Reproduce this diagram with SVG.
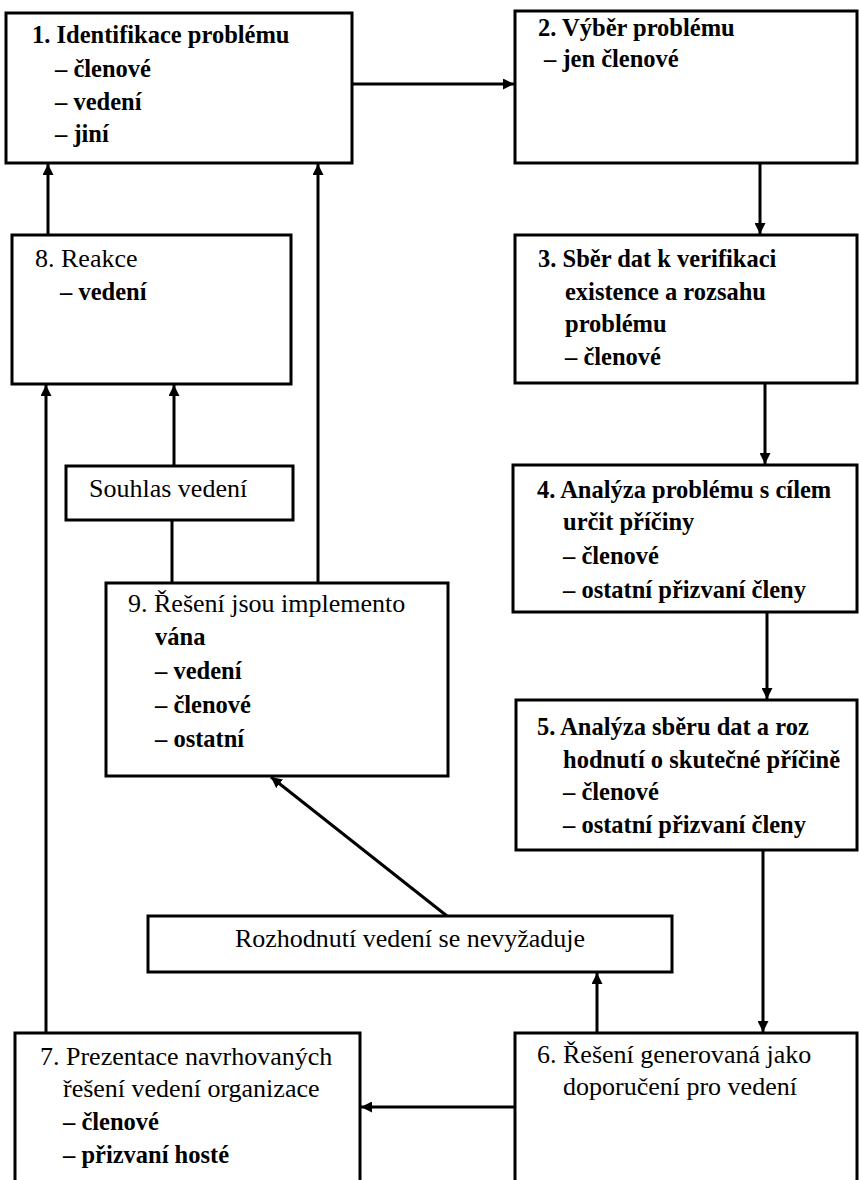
<svg xmlns="http://www.w3.org/2000/svg" width="859" height="1180" viewBox="0 0 859 1180">
<style>
.box{fill:#fff;stroke:#000;stroke-width:3}
.t{font-family:"Liberation Serif","Times New Roman",serif;font-size:24.5px;font-weight:bold;fill:#000}
.r{font-family:"Liberation Serif","Times New Roman",serif;font-size:26px;font-weight:normal;fill:#000}
.c{fill:none;stroke:#000;stroke-width:3}
</style>
<defs>
<marker id="ah" viewBox="0 0 10 10" refX="10" refY="5" markerWidth="11" markerHeight="11" markerUnits="userSpaceOnUse" orient="auto">
<path d="M0,0 L10,5 L0,10 z" fill="#000"/>
</marker>
</defs>
<rect x="0" y="0" width="859" height="1180" fill="#fff"/>
<g id="connectors">
<path class="c" d="M352,84 H514" marker-end="url(#ah)"/>
<path class="c" d="M760,163 V234" marker-end="url(#ah)"/>
<path class="c" d="M765,383 V464" marker-end="url(#ah)"/>
<path class="c" d="M767,612 V699" marker-end="url(#ah)"/>
<path class="c" d="M763,850 V1032" marker-end="url(#ah)"/>
<path class="c" d="M597,1033 V973" marker-end="url(#ah)"/>
<path class="c" d="M447,916 L271,777" marker-end="url(#ah)"/>
<path class="c" d="M515,1107 H361" marker-end="url(#ah)"/>
<path class="c" d="M46,1033 V385" marker-end="url(#ah)"/>
<path class="c" d="M174,466 V385" marker-end="url(#ah)"/>
<path class="c" d="M172,583 V520"/>
<path class="c" d="M318,583 V164" marker-end="url(#ah)"/>
<path class="c" d="M48,235 V164" marker-end="url(#ah)"/>
</g>
<g id="n1">
<rect class="box" x="6" y="13" width="346" height="150"/>
<text class="t" x="32" y="43">1. Identifikace problému</text>
<text class="t" x="55" y="77">– členové</text>
<text class="t" x="55" y="110">– vedení</text>
<text class="t" x="55" y="142">– jiní</text>
</g>
<g id="n2">
<rect class="box" x="515" y="11" width="342" height="152"/>
<text class="t" x="538" y="36">2. Výběr problému</text>
<text class="t" x="544" y="67">– jen členové</text>
</g>
<g id="n3">
<rect class="box" x="515" y="235" width="342" height="148"/>
<text class="t" x="538" y="267">3. Sběr dat k verifikaci</text>
<text class="t" x="565" y="300">existence a rozsahu</text>
<text class="t" x="565" y="332">problému</text>
<text class="t" x="565" y="365">– členové</text>
</g>
<g id="n4">
<rect class="box" x="513" y="465" width="344" height="147"/>
<text class="t" x="537" y="498">4. Analýza problému s cílem</text>
<text class="t" x="563" y="530">určit příčiny</text>
<text class="t" x="563" y="564">– členové</text>
<text class="t" x="563" y="598">– ostatní přizvaní členy</text>
</g>
<g id="n5">
<rect class="box" x="516" y="700" width="341" height="150"/>
<text class="t" x="537" y="735">5. Analýza sběru dat a roz</text>
<text class="t" x="563" y="768">hodnutí o skutečné příčině</text>
<text class="t" x="563" y="800">– členové</text>
<text class="t" x="563" y="833">– ostatní přizvaní členy</text>
</g>
<g id="n6">
<rect class="box" x="515" y="1033" width="342" height="160"/>
<text class="r" x="537" y="1063">6. Řešení generovaná jako</text>
<text class="r" x="563" y="1095">doporučení pro vedení</text>
</g>
<g id="n7">
<rect class="box" x="15" y="1033" width="345" height="160"/>
<text class="r" x="40" y="1065">7. Prezentace navrhovaných</text>
<text class="r" x="63" y="1097">řešení vedení organizace</text>
<text class="t" x="63" y="1130">– členové</text>
<text class="t" x="63" y="1163">– přizvaní hosté</text>
</g>
<g id="n8">
<rect class="box" x="12" y="235" width="279" height="149"/>
<text class="r" x="35" y="267">8. Reakce</text>
<text class="t" x="60" y="300">– vedení</text>
</g>
<g id="n9">
<rect class="box" x="106" y="583" width="342" height="193"/>
<text class="r" x="128" y="612">9. Řešení jsou implemento</text>
<text class="t" x="155" y="645">vána</text>
<text class="t" x="155" y="679">– vedení</text>
<text class="t" x="155" y="713">– členové</text>
<text class="t" x="155" y="747">– ostatní</text>
</g>
<g id="souhlas">
<rect class="box" x="66" y="466" width="227" height="54"/>
<text class="r" x="89" y="497">Souhlas vedení</text>
</g>
<g id="rozhodnuti">
<rect class="box" x="148" y="916" width="524" height="56"/>
<text class="r" x="410" y="947" text-anchor="middle">Rozhodnutí vedení se nevyžaduje</text>
</g>
</svg>
